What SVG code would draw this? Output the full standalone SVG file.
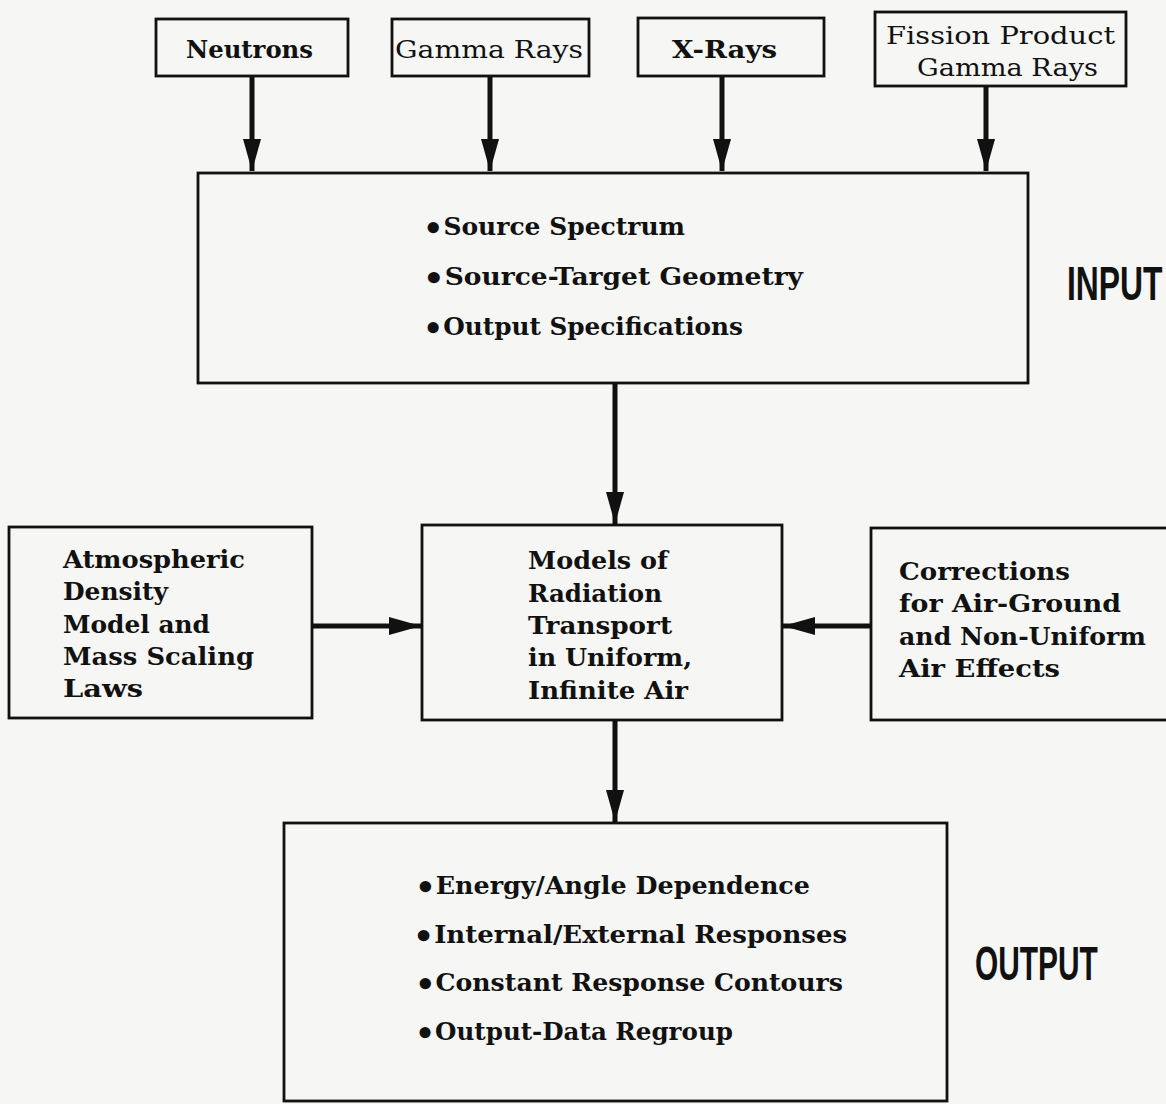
<svg xmlns="http://www.w3.org/2000/svg" width="1166" height="1104" viewBox="0 0 1166 1104">
<style>
.box{fill:none;stroke:#111;stroke-width:2.8}
.conn{stroke:#111;stroke-width:5;fill:none}
.t{font-family:"DejaVu Serif",serif;font-weight:bold;font-size:25px;fill:#111}
.tr{font-family:"DejaVu Serif",serif;font-size:25px;fill:#111}
.bul{font-size:32px}
.lab{font-family:"Liberation Sans",sans-serif;font-weight:bold;font-size:49px;fill:#111}
</style>
<defs>
<marker id="ah" markerUnits="userSpaceOnUse" markerWidth="34" markerHeight="20" refX="32" refY="10" orient="auto">
<path d="M0,1 L32,10 L0,19 Z" fill="#111"/>
</marker>
</defs>
<rect width="1166" height="1104" fill="#f6f6f4"/>

<g id="connectors">
<line class="conn" x1="252" y1="76" x2="252" y2="171" marker-end="url(#ah)"/>
<line class="conn" x1="490" y1="76" x2="490" y2="171" marker-end="url(#ah)"/>
<line class="conn" x1="722" y1="76" x2="722" y2="171" marker-end="url(#ah)"/>
<line class="conn" x1="986" y1="86" x2="986" y2="171" marker-end="url(#ah)"/>
<line class="conn" x1="615" y1="383" x2="615" y2="524" marker-end="url(#ah)"/>
<line class="conn" x1="312" y1="626" x2="421" y2="626" marker-end="url(#ah)"/>
<line class="conn" x1="871" y1="626" x2="783" y2="626" marker-end="url(#ah)"/>
<line class="conn" x1="615" y1="720" x2="615" y2="822" marker-end="url(#ah)"/>
</g>

<g id="neutrons">
<rect class="box" x="156" y="19" width="192" height="57"/>
<text class="t" x="186" y="58" textLength="127" lengthAdjust="spacingAndGlyphs">Neutrons</text>
</g>
<g id="gamma-rays">
<rect class="box" x="392" y="19" width="197" height="57"/>
<text class="tr" x="395" y="58" textLength="188" lengthAdjust="spacingAndGlyphs">Gamma Rays</text>
</g>
<g id="x-rays">
<rect class="box" x="638" y="18" width="186" height="58"/>
<text class="t" x="672" y="58" textLength="105" lengthAdjust="spacingAndGlyphs">X-Rays</text>
</g>
<g id="fission">
<rect class="box" x="875" y="12" width="251" height="74"/>
<text class="tr" x="886" y="44" textLength="229" lengthAdjust="spacingAndGlyphs">Fission Product</text>
<text class="tr" x="917" y="76" textLength="181" lengthAdjust="spacingAndGlyphs">Gamma Rays</text>
</g>

<g id="input">
<rect class="box" x="198" y="173" width="830" height="210"/>
<text class="t" x="423" y="235" textLength="262" lengthAdjust="spacingAndGlyphs"><tspan class="bul" dy="4">•</tspan><tspan dy="-4">Source Spectrum</tspan></text>
<text class="t" x="423" y="285" textLength="380" lengthAdjust="spacingAndGlyphs"><tspan class="bul" dy="4">•</tspan><tspan dy="-4">Source-Target Geometry</tspan></text>
<text class="t" x="423" y="335" textLength="320" lengthAdjust="spacingAndGlyphs"><tspan class="bul" dy="4">•</tspan><tspan dy="-4">Output Specifications</tspan></text>
</g>
<text class="lab" transform="translate(1067,300) scale(0.65,1)">INPUT</text>

<g id="atmospheric">
<rect class="box" x="9" y="527" width="303" height="191"/>
<text class="t" x="63" y="568" textLength="182" lengthAdjust="spacingAndGlyphs">Atmospheric</text>
<text class="t" x="63" y="600" textLength="105" lengthAdjust="spacingAndGlyphs">Density</text>
<text class="t" x="63" y="633" textLength="147" lengthAdjust="spacingAndGlyphs">Model and</text>
<text class="t" x="63" y="665" textLength="191" lengthAdjust="spacingAndGlyphs">Mass Scaling</text>
<text class="t" x="63" y="697" textLength="80" lengthAdjust="spacingAndGlyphs">Laws</text>
</g>

<g id="models">
<rect class="box" x="422" y="525" width="360" height="195"/>
<text class="t" x="528" y="569" textLength="140" lengthAdjust="spacingAndGlyphs">Models of</text>
<text class="t" x="528" y="602" textLength="134" lengthAdjust="spacingAndGlyphs">Radiation</text>
<text class="t" x="528" y="634" textLength="144" lengthAdjust="spacingAndGlyphs">Transport</text>
<text class="t" x="528" y="666" textLength="164" lengthAdjust="spacingAndGlyphs">in Uniform,</text>
<text class="t" x="528" y="699" textLength="160" lengthAdjust="spacingAndGlyphs">Infinite Air</text>
</g>

<g id="corrections">
<rect class="box" x="871" y="528" width="305" height="192"/>
<text class="t" x="899" y="580" textLength="171" lengthAdjust="spacingAndGlyphs">Corrections</text>
<text class="t" x="899" y="612" textLength="222" lengthAdjust="spacingAndGlyphs">for Air-Ground</text>
<text class="t" x="899" y="645" textLength="247" lengthAdjust="spacingAndGlyphs">and Non-Uniform</text>
<text class="t" x="899" y="677" textLength="161" lengthAdjust="spacingAndGlyphs">Air Effects</text>
</g>

<g id="output">
<rect class="box" x="284" y="823" width="663" height="278"/>
<text class="t" x="415" y="894" textLength="395" lengthAdjust="spacingAndGlyphs"><tspan class="bul" dy="4">•</tspan><tspan dy="-4">Energy/Angle Dependence</tspan></text>
<text class="t" x="413" y="943" textLength="434" lengthAdjust="spacingAndGlyphs"><tspan class="bul" dy="4">•</tspan><tspan dy="-4">Internal/External Responses</tspan></text>
<text class="t" x="415" y="991" textLength="428" lengthAdjust="spacingAndGlyphs"><tspan class="bul" dy="4">•</tspan><tspan dy="-4">Constant Response Contours</tspan></text>
<text class="t" x="415" y="1040" textLength="318" lengthAdjust="spacingAndGlyphs"><tspan class="bul" dy="4">•</tspan><tspan dy="-4">Output-Data Regroup</tspan></text>
</g>
<text class="lab" transform="translate(975,980) scale(0.61,1)">OUTPUT</text>
</svg>
